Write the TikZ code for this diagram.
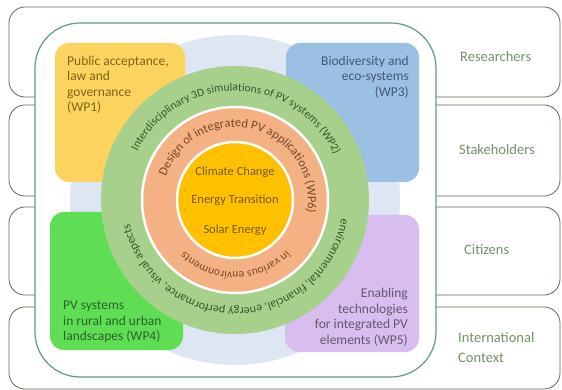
\documentclass[tikz,border=0pt]{standalone}
\usepackage{fontspec}
\setmainfont{Carlito}
\usetikzlibrary{decorations.text}

\definecolor{bandline}{RGB}{96,110,84}
\definecolor{frame}{RGB}{92,156,140}
\definecolor{paleblue}{RGB}{221,230,242}
\definecolor{wpyellow}{RGB}{250,212,95}
\definecolor{wpblue}{RGB}{155,192,228}
\definecolor{wpgreen}{RGB}{95,222,85}
\definecolor{wppurple}{RGB}{215,190,238}
\definecolor{ringgreen}{RGB}{168,208,141}
\definecolor{ringsalmon}{RGB}{244,177,131}
\definecolor{core}{RGB}{255,192,0}
\definecolor{yellowtext}{RGB}{128,100,20}
\definecolor{bluetext}{RGB}{68,88,118}
\definecolor{greentext}{RGB}{40,100,40}
\definecolor{purpletext}{RGB}{100,88,108}
\definecolor{ringgreentext}{RGB}{56,86,40}
\definecolor{salmontext}{RGB}{120,72,40}
\definecolor{coretext}{RGB}{120,90,10}
\definecolor{grouptext}{RGB}{118,146,102}

\tikzset{
	band/.style={draw=bandline, line width=0.8pt, rounded corners=16pt, fill=white},
	wpbox/.style={rounded corners=14pt},
	boxtext/.style={inner sep=0pt, font=\fontsize{13.5}{15.5}\selectfont},
	grouplabel/.style={inner sep=0pt, anchor=west, text=grouptext, align=left, font=\fontsize{14.5}{20}\selectfont},
	corelabel/.style={inner sep=0pt, text=coretext, font=\fontsize{12.5}{14}\selectfont},
	ringtext/.style={decorate, decoration={text along path, text align=center, #1}}
}

\begin{document}
\begin{tikzpicture}[x=1pt, y=-1pt]
	
	\useasboundingbox (0,0) rectangle (562,390);
	
	% target groups
	\draw[band] (9,7) rectangle (560,97);
	\draw[band] (9,105) rectangle (560,196);
	\draw[band] (9,207) rectangle (560,295);
	\draw[band] (9,307) rectangle (560,389);
	
	\node[grouplabel] (researchers) at (460,57) {Researchers};
	\node[grouplabel] (stakeholders) at (459,150) {Stakeholders};
	\node[grouplabel] (citizens) at (464,250) {Citizens};
	\node[grouplabel] (international) at (458,348) {International\\Context};
	
	% project frame
	\draw[draw=frame, line width=1.2pt, fill=white, rounded corners=45pt] (35,23) rectangle (436,377);
	\fill[paleblue] (235,200) circle[radius=165];
	
	% work packages in the corners
	\fill[wpbox, fill=wpyellow] (55,43) rectangle (185,182);
	\fill[wpbox, fill=wpblue] (286,43) rectangle (419,182);
	\fill[wpbox, fill=wpgreen] (50,212) rectangle (183,350);
	\fill[wpbox, fill=wppurple] (285,215) rectangle (419,352);
	
	\node[boxtext, anchor=west, align=left, text=yellowtext] (wp1) at (67,85) {Public acceptance,\\law and\\governance\\(WP1)};
	\node[boxtext, anchor=east, align=right, text=bluetext] (wp3) at (409,77) {Biodiversity and\\eco-systems\\(WP3)};
	\node[boxtext, anchor=west, align=left, text=greentext] (wp4) at (63,322) {PV systems\\in rural and urban\\landscapes (WP4)};
	\node[boxtext, anchor=east, align=right, text=purpletext] (wp5) at (408,317) {Enabling\\technologies\\for integrated PV\\elements (WP5)};
	
	% rings
	\begin{scope}[shift={(235,200)}, x=1pt, y=1pt]
		\fill[ringgreen] (0,0) circle[radius=134];
		\filldraw[fill=ringsalmon, draw=white, line width=2.5pt] (0,0) circle[radius=93];
		\filldraw[fill=core, draw=white, line width=2.5pt] (0,0) circle[radius=58];
		
		\path[ringtext={text={|\fontsize{11.5}{13}\selectfont\color{ringgreentext}|Interdisciplinary 3D simulations of PV systems (WP2)}}]
			(172:109) arc[start angle=172, end angle=6, radius=109];
		\path[ringtext={text={|\fontsize{12}{13}\selectfont\color{ringgreentext}|environmental, financial, energy performance, visual aspects}}]
			(4:108) arc[start angle=4, end angle=-181, radius=108];
		\path[ringtext={text={|\fontsize{12.5}{14}\selectfont\color{salmontext}|Design of integrated PV applications (WP6)}}]
			(176:73) arc[start angle=176, end angle=-25, radius=73];
		\path[ringtext={text={|\fontsize{11.5}{13}\selectfont\color{salmontext}|in various environments}}]
			(-25:72) arc[start angle=-25, end angle=-154, radius=72];
		
		\node[corelabel] (climate) at (0,28) {Climate Change};
		\node[corelabel] (transition) at (0,0) {Energy Transition};
		\node[corelabel] (solar) at (0,-30) {Solar Energy};
	\end{scope}
	
\end{tikzpicture}
\end{document}
